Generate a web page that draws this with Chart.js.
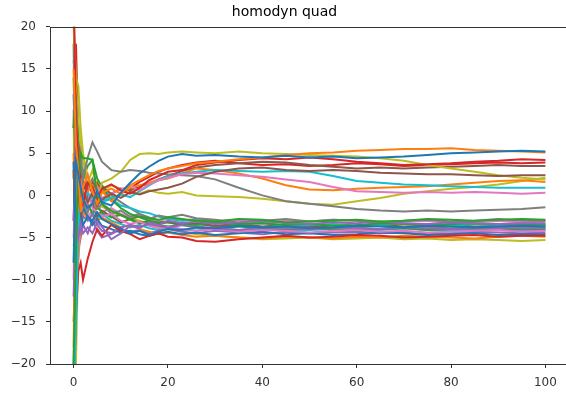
<!DOCTYPE html>
<html lang="en">
<head>
  <meta charset="UTF-8" />
  <title>homodyn quad</title>
  <script src="https://cdn.jsdelivr.net/npm/chart.js"></script>
  <style>
    body { margin: 0; background: #fff; overflow: hidden; }
    #wrap { width: 566px; height: 398px; overflow: hidden; }
  </style>
</head>
<body>
  <div id="wrap"><canvas id="quadChart" width="575" height="398"></canvas></div>

  <script>
    // sample times (x)
    const times = [0, 0.5, 1, 1.5, 2, 3, 4, 5, 6, 8, 10, 12, 14, 16, 18, 20, 23, 26, 30, 35, 40, 45, 50, 55, 60, 65, 70, 75, 80, 85, 90, 95, 100];
    const xTicks = [0, 20, 40, 60, 80, 100];

    // trajectories, in matplotlib colour-cycle order
    const blueA   = [-8, 4, 2.5, 1, -0.5, -1.5, -1, 0.5, -0.8, -1.2, 0.3, 1.5, 2.6, 3.4, 4.1, 4.6, 4.9, 4.7, 4.8, 4.6, 4.5, 4.7, 4.5, 4.6, 4.4, 4.5, 4.6, 4.8, 5.0, 5.1, 5.2, 5.3, 5.2];
    const orangeA = [15, 6, 3, -2, 1, 2.5, 0.5, -1, 0.3, 0.8, 0.2, 1.2, 1.8, 2.4, 2.9, 3.2, 3.5, 3.8, 4.0, 4.3, 4.5, 4.8, 5.0, 5.1, 5.3, 5.4, 5.5, 5.5, 5.6, 5.4, 5.3, 5.2, 5.1];
    const greenA  = [-20, -6, 3, 5, 4.4, 4.4, 4.2, 0, -1, -1.8, -2.3, -2.8, -2.5, -2.7, -2.9, -2.6, -2.8, -3.0, -3.1, -2.8, -2.9, -3.2, -3.1, -3.0, -2.9, -3.1, -3.0, -2.8, -2.9, -3.0, -2.9, -2.8, -2.9];
    const redA    = [25, 9, 4, 0, -1, 1.5, 1.0, -0.5, 0.8, 1.3, 0.6, 0.2, 0.9, 1.8, 2.3, 2.8, 3.0, 3.6, 3.9, 4.2, 4.4, 4.3, 4.5, 4.3, 4.0, 3.8, 3.6, 3.7, 3.8, 4.0, 4.1, 4.3, 4.2];
    const purpleA = [-12, -2, -5, -3.5, -4.5, -3.8, -4.5, -3.2, -3.7, -5.2, -4.5, -3.6, -3.9, -3.2, -3.5, -3.0, -3.3, -3.1, -3.4, -3.2, -3.0, -3.3, -3.4, -3.2, -3.3, -3.1, -3.3, -3.4, -3.2, -3.3, -3.4, -3.3, -3.3];
    const brownA  = [3, -4, 1, -2, 0.5, -0.8, 0.3, -1.2, -0.5, 0.2, -0.3, 0.4, 0.1, 0.5, 0.7, 0.9, 1.4, 2.2, 2.8, 3.2, 3.3, 3.0, 2.9, 3.0, 2.9, 2.7, 2.6, 2.5, 2.5, 2.4, 2.3, 2.4, 2.4];
    const pinkA   = [-5, 2, 0.5, 1.5, 0.5, -1, 0.5, 1, -0.3, 0.2, 0.7, 1.1, 0.6, 1.3, 1.8, 2.1, 2.5, 2.7, 2.6, 2.4, 2.2, 1.9, 1.6, 1.0, 0.5, 0.4, 0.3, 0.4, 0.3, 0.4, 0.3, 0.2, 0.3];
    const grayA   = [10, 12, 3, 5, 2, 4.5, 6.3, 5.2, 4.0, 3.0, 2.8, 3.0, 2.9, 2.7, 2.6, 2.5, 2.4, 2.3, 1.9, 0.9, 0.0, -0.7, -1.0, -1.3, -1.6, -1.8, -1.9, -1.8, -1.9, -1.8, -1.7, -1.6, -1.4];
    const oliveA  = [20, 14, 13, 8, 5, 2, 0.5, -0.5, 1.5, 2.0, 2.8, 4.2, 4.9, 5.0, 4.9, 5.1, 5.2, 5.1, 5.0, 5.2, 5.0, 4.9, 4.8, 4.7, 4.6, 4.4, 4.1, 3.6, 3.2, 2.8, 2.4, 2.1, 1.9];
    const cyanA   = [-25, -15, -4, 1, -0.5, 0.3, -0.4, 0.2, -0.6, -0.3, 0.1, -0.2, 0.5, 1.2, 1.8, 2.3, 2.6, 2.8, 3.0, 2.9, 2.8, 2.9, 2.8, 2.3, 1.7, 1.5, 1.3, 1.2, 1.1, 1.0, 0.9, 0.9, 0.9];

    const blueB   = [4, -10, -3, -2, -3.5, -2.5, -3.0, -2.0, -2.8, -3.4, -3.9, -4.5, -4.2, -4.7, -4.3, -4.0, -4.1, -3.8, -3.9, -3.6, -3.8, -3.7, -3.9, -3.8, -3.6, -3.7, -3.8, -3.6, -3.7, -3.8, -3.7, -3.6, -3.7];
    const orangeB = [-18, 3, -2, 2, -1, 0.5, 1.2, -0.5, 0.5, -0.7, 0.3, 0.9, 1.2, 1.5, 1.8, 2.0, 2.6, 3.2, 3.0, 2.6, 2.0, 1.2, 0.7, 0.6, 0.8, 0.9, 1.0, 1.1, 1.3, 1.5, 1.7, 1.8, 1.6];
    const greenB  = [8, 11, 6, 3, 2.0, 3.5, 4.2, 2.0, 1.0, -0.5, -1.5, -2.2, -2.6, -3.0, -3.2, -3.1, -3.3, -3.5, -3.2, -3.4, -3.3, -3.5, -3.4, -3.6, -3.5, -3.3, -3.4, -3.5, -3.4, -3.3, -3.4, -3.5, -3.4];
    const redB    = [-25, -14, -9, -8, -10, -7.5, -5.5, -4.0, -4.8, -3.5, -4.2, -4.6, -5.2, -4.8, -4.5, -4.9, -5.0, -5.4, -5.5, -5.2, -5.0, -4.8, -5.0, -4.9, -4.7, -4.8, -5.0, -4.9, -4.8, -4.7, -4.9, -4.8, -4.8];
    const purpleB = [-3, 5, -1, -4, -2.5, -3.0, -2.2, -3.5, -4.2, -4.5, -3.8, -3.5, -3.7, -3.4, -3.6, -3.8, -3.5, -3.7, -3.9, -4.1, -3.8, -3.9, -4.0, -3.8, -3.9, -4.0, -3.8, -3.9, -4.0, -3.9, -3.8, -3.9, -3.9];
    const brownB  = [-3, 7, 2, 3.5, 1.5, 0.5, 1.5, 0.6, 1.0, 0.2, 0.8, 0.6, 1.1, 1.4, 1.9, 2.3, 2.9, 3.3, 3.6, 3.8, 4.0, 3.9, 3.6, 3.4, 3.2, 3.3, 3.2, 3.3, 3.4, 3.5, 3.6, 3.5, 3.5];
    const pinkB   = [-10, 8, -6, -2, -1.0, 0.5, -1.5, -2.0, -2.5, -2.2, -3.0, -3.4, -3.1, -3.6, -3.9, -3.7, -4.0, -4.2, -4.0, -4.3, -4.1, -4.2, -4.4, -4.2, -4.1, -4.3, -4.2, -4.4, -4.3, -4.2, -4.1, -4.3, -4.2];
    const grayB   = [18, -5, 2, -3, -1.0, -2.0, -0.5, -1.5, -1.0, -2.2, -1.8, -2.5, -2.2, -2.8, -2.4, -2.6, -2.3, -2.7, -2.9, -3.2, -3.0, -2.8, -3.1, -2.9, -3.0, -3.2, -3.0, -2.9, -3.1, -3.0, -2.8, -3.0, -3.0];
    const oliveB  = [16, 13, 9, 6, 4, 1.5, 3.0, 1.0, 0.5, 1.2, 0.8, 0.5, 0.2, 0.6, 0.3, 0.2, 0.4, 0.0, -0.1, -0.2, -0.4, -0.7, -1.0, -1.1, -0.7, -0.3, 0.2, 0.5, 0.8, 1.0, 1.3, 1.7, 2.1];
    const cyanB   = [-22, -8, 1, -0.5, 0.2, -0.5, 0.3, -0.2, -0.8, -0.4, -1.2, -1.5, -1.9, -2.1, -2.5, -2.8, -3.0, -2.9, -3.2, -3.4, -3.3, -3.6, -3.5, -3.4, -3.6, -3.5, -3.3, -3.5, -3.6, -3.4, -3.5, -3.6, -3.5];

    const blueC   = [12, 3, -5, -3, -1.5, -2.5, -3.5, -2.8, -3.6, -4.0, -4.4, -4.2, -4.6, -4.8, -4.5, -4.3, -4.6, -4.4, -4.7, -4.5, -4.3, -4.6, -4.5, -4.7, -4.6, -4.4, -4.5, -4.7, -4.6, -4.5, -4.7, -4.6, -4.6];
    const orangeC = [5, -12, -7, -4, -2.0, -2.8, -2.4, -3.0, -2.6, -3.2, -3.8, -3.5, -4.0, -4.3, -4.6, -4.4, -4.7, -4.9, -4.8, -5.0, -5.1, -4.9, -5.0, -5.1, -4.9, -5.0, -4.8, -4.9, -5.0, -5.1, -4.9, -4.8, -4.9];
    const greenC  = [14, 2, -3, 0.5, -2.0, -1.0, -2.2, -1.4, -2.0, -2.6, -2.3, -2.9, -3.3, -3.1, -3.5, -3.7, -3.5, -3.8, -4.0, -3.7, -3.9, -4.1, -3.9, -4.0, -4.2, -4.0, -3.9, -4.1, -4.0, -3.9, -4.1, -4.0, -4.0];
    const redC    = [8, 18, 7, 2, 0.5, 2.0, 0.0, 1.5, 0.5, -0.5, 0.2, 0.8, 1.6, 2.2, 2.8, 3.2, 3.6, 3.9, 4.1, 3.8, 3.6, 3.7, 3.5, 3.6, 3.8, 3.7, 3.5, 3.6, 3.7, 3.8, 3.9, 3.8, 3.9];
    const purpleC = [-15, -7, -2, -5, -3.5, -4.5, -3.0, -4.2, -5.0, -4.6, -4.0, -4.3, -4.1, -4.5, -4.2, -4.0, -4.3, -4.5, -4.2, -4.4, -4.6, -4.3, -4.5, -4.4, -4.3, -4.5, -4.4, -4.6, -4.5, -4.3, -4.4, -4.5, -4.4];
    const brownC  = [22, 9, 3, 1, -2.0, 0.0, -1.0, -2.5, -1.8, -2.5, -3.2, -2.8, -3.3, -3.0, -3.4, -3.2, -3.5, -3.3, -3.6, -3.4, -3.7, -3.5, -3.6, -3.8, -3.6, -3.5, -3.7, -3.6, -3.5, -3.7, -3.6, -3.5, -3.6];
    const pinkC   = [-6, -4, -8, -3, -1.5, -2.5, -1.8, -1.0, -2.0, -1.5, -2.2, -2.6, -2.4, -2.8, -3.0, -2.7, -3.0, -2.8, -3.1, -2.9, -3.2, -3.0, -3.1, -2.9, -3.0, -3.2, -3.1, -3.0, -3.2, -3.1, -3.0, -3.2, -3.1];
    const grayC   = [-20, -3, 5, 2, 3.0, 1.0, 2.0, 0.5, 1.2, 0.0, -0.8, -1.5, -2.2, -2.6, -3.0, -3.2, -3.5, -3.4, -3.7, -3.5, -3.8, -3.6, -3.7, -3.9, -3.8, -3.6, -3.8, -3.9, -3.7, -3.8, -3.9, -3.8, -3.8];
    const oliveC  = [10, -20, -6, -2, -1.0, -1.5, -0.8, -1.6, -1.3, -2.0, -2.4, -2.7, -3.0, -3.4, -3.7, -4.0, -4.3, -4.6, -4.8, -5.0, -5.2, -5.1, -5.0, -5.2, -5.1, -5.0, -5.2, -5.1, -5.3, -5.2, -5.3, -5.4, -5.3];
    const cyanC   = [2, 6, -4, -1, -2.0, -1.2, -2.0, -2.8, -2.2, -3.0, -3.4, -3.8, -3.5, -3.9, -4.1, -3.8, -4.0, -4.2, -3.9, -4.1, -4.0, -4.2, -4.1, -4.0, -4.2, -4.1, -3.9, -4.1, -4.2, -4.0, -4.1, -4.2, -4.1];

    const series = [
      blueA, orangeA, greenA, redA, purpleA, brownA, pinkA, grayA, oliveA, cyanA,
      blueB, orangeB, greenB, redB, purpleB, brownB, pinkB, grayB, oliveB, cyanB,
      blueC, orangeC, greenC, redC, purpleC, brownC, pinkC, grayC, oliveC, cyanC
    ];
    const palette = ['#1f77b4', '#ff7f0e', '#2ca02c', '#d62728', '#9467bd',
                     '#8c564b', '#e377c2', '#7f7f7f', '#bcbd22', '#17becf'];

    const frame = {
      id: 'frame',
      afterDraw(chart) {
        const { ctx, chartArea: a } = chart;
        ctx.save();
        ctx.strokeStyle = '#333';
        ctx.lineWidth = 1;
        ctx.strokeRect(Math.round(a.left) + 0.5, Math.round(a.top) + 0.5,
                       Math.round(a.right - a.left), Math.round(a.bottom - a.top));
        ctx.restore();
      }
    };

    const tickFont = { family: 'DejaVu Sans', size: 12 };
    const minus = v => String(v).replace('-', '\u2212');

    new Chart(document.getElementById('quadChart'), {
      type: 'line',
      data: {
        datasets: series.map((vals, i) => ({
          data: times.map((t, j) => ({ x: t, y: vals[j] })),
          borderColor: palette[i % 10],
          borderWidth: 2,
          pointRadius: 0,
          tension: 0,
          fill: false
        }))
      },
      options: {
        responsive: false,
        animation: false,
        layout: { padding: { left: 0, right: 6, top: 0, bottom: 0 } },
        plugins: {
          legend: { display: false },
          tooltip: { enabled: false },
          title: {
            display: true,
            text: 'homodyn quad',
            color: '#000',
            font: { family: 'DejaVu Sans', size: 14, weight: 'normal' },
            padding: { top: 4, bottom: 6 }
          }
        },
        scales: {
          x: {
            type: 'linear',
            min: -5,
            max: 105,
            afterBuildTicks: s => { s.ticks = xTicks.map(v => ({ value: v })); },
            afterFit: s => { s.height = 34; },
            border: { display: false },
            grid: { display: true, drawOnChartArea: false, drawTicks: true, tickLength: 4, color: '#333' },
            ticks: { color: '#333', font: tickFont, padding: 8, maxRotation: 0, callback: minus }
          },
          y: {
            min: -20,
            max: 20,
            afterFit: s => { s.width = 50; },
            border: { display: false },
            grid: { display: true, drawOnChartArea: false, drawTicks: true, tickLength: 4, color: '#333' },
            ticks: { color: '#333', font: tickFont, padding: 10, stepSize: 5, callback: minus }
          }
        }
      },
      plugins: [frame]
    });
  </script>
</body>
</html>
